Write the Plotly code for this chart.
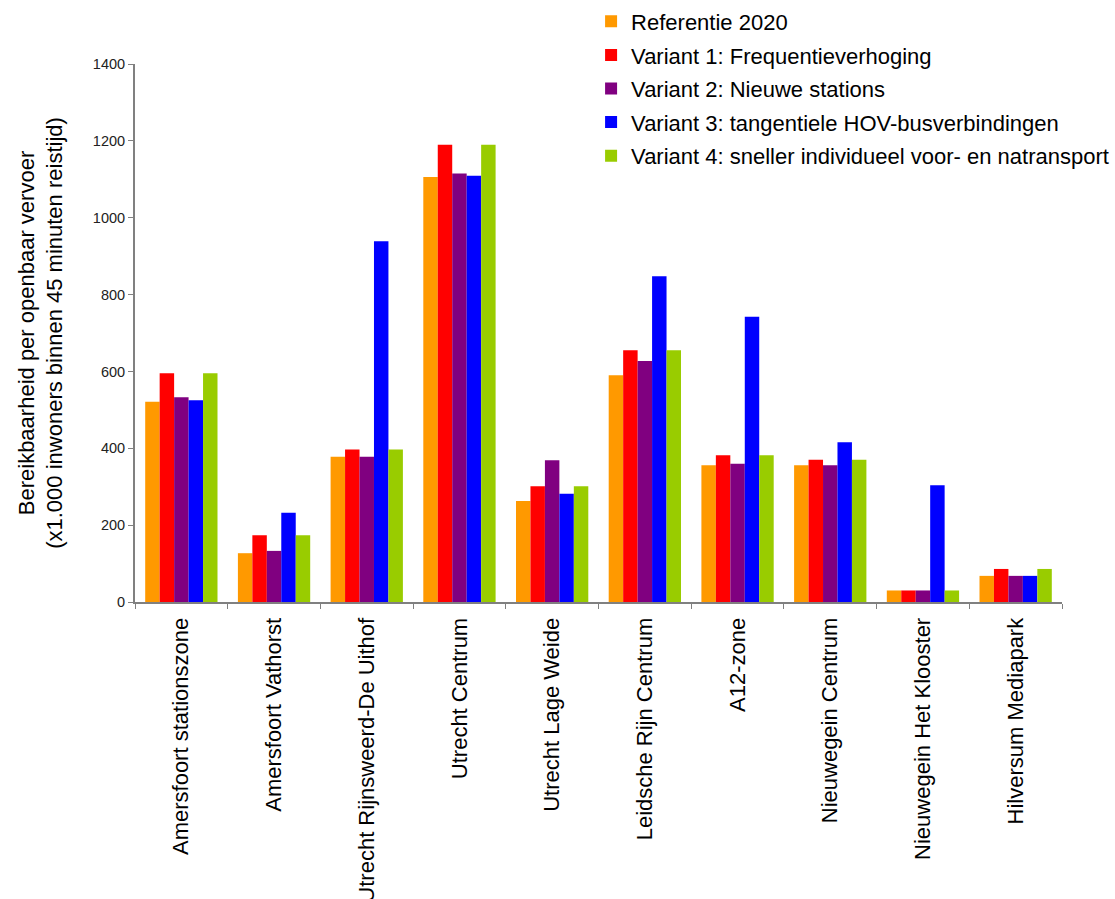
import plotly.graph_objects as go

# Locaties (categorieën op de x-as)
locaties = [
    "Amersfoort stationszone",
    "Amersfoort Vathorst",
    "Utrecht Rijnsweerd-De Uithof",
    "Utrecht Centrum",
    "Utrecht Lage Weide",
    "Leidsche Rijn Centrum",
    "A12-zone",
    "Nieuwegein Centrum",
    "Nieuwegein Het Klooster",
    "Hilversum Mediapark",
]

# Bereikbaarheid per variant (x1.000 inwoners binnen 45 minuten reistijd)
referentie_2020 = [521, 127, 378, 1106, 263, 590, 356, 356, 30, 68]
variant_1 = [595, 174, 397, 1190, 301, 655, 382, 370, 30, 86]
variant_2 = [533, 133, 378, 1115, 369, 627, 360, 356, 30, 68]
variant_3 = [525, 232, 939, 1109, 282, 848, 742, 416, 304, 68]
variant_4 = [595, 174, 397, 1190, 301, 655, 382, 370, 30, 86]

series = [
    ("Referentie 2020", referentie_2020, "#FF9900"),
    ("Variant 1: Frequentieverhoging", variant_1, "#FF0000"),
    ("Variant 2: Nieuwe stations", variant_2, "#800080"),
    ("Variant 3: tangentiele HOV-busverbindingen", variant_3, "#0000FF"),
    ("Variant 4: sneller individueel voor- en natransport", variant_4, "#99CC00"),
]

font_family = "Arial, Liberation Sans, sans-serif"

fig = go.Figure()
for i, (naam, waarden, kleur) in enumerate(series):
    fig.add_trace(go.Bar(
        name=naam,
        x=locaties,
        y=waarden,
        marker=dict(color=kleur, line=dict(width=0)),
        legendgroup=f"g{i}",
    ))

fig.update_layout(
    width=1115,
    height=899,
    margin=dict(l=135, r=53, t=64, b=297, autoexpand=False),
    paper_bgcolor="white",
    plot_bgcolor="white",
    barmode="group",
    bargap=0.22,
    bargroupgap=0,
    font=dict(family=font_family, color="black"),
    legend=dict(
        x=0.492,
        xanchor="left",
        y=1.118,
        yanchor="top",
        font=dict(size=22, family=font_family, color="black"),
        bgcolor="rgba(0,0,0,0)",
        tracegroupgap=2,
        itemwidth=30,
    ),
    showlegend=True,
)

fig.update_xaxes(
    type="category",
    showline=True,
    linecolor="#808080",
    linewidth=2,
    ticks="outside",
    tickson="boundaries",
    ticklen=5,
    tickcolor="#808080",
    tickangle=-90,
    ticklabelstandoff=5,
    tickfont=dict(size=22, family=font_family, color="black"),
    showgrid=False,
    zeroline=False,
)

fig.update_yaxes(
    range=[0, 1400],
    tickvals=[0, 200, 400, 600, 800, 1000, 1200, 1400],
    showline=True,
    linecolor="#808080",
    linewidth=2,
    ticks="outside",
    ticklen=5,
    tickcolor="#808080",
    tickfont=dict(size=14.5, family=font_family, color="#222222"),
    showgrid=False,
    zeroline=False,
    title=dict(
        text="Bereikbaarheid per openbaar vervoer<br>(x1.000 inwoners binnen 45 minuten reistijd)",
        font=dict(size=22, family=font_family, color="black"),
        standoff=24,
    ),
)

fig.write_html("out.html")
